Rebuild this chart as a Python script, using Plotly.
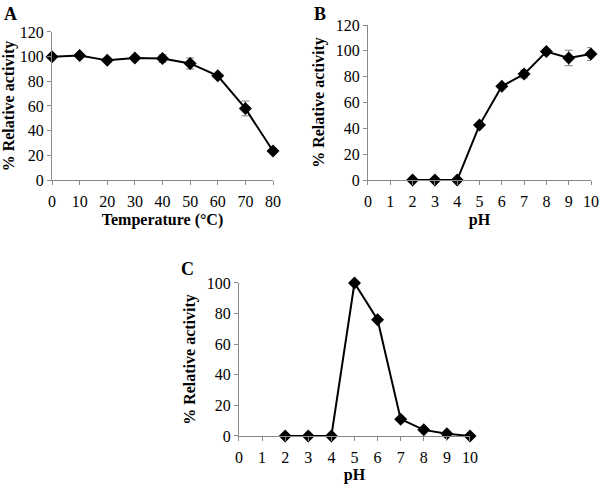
import plotly.graph_objects as go

# Panel A: temperature
temp_x = [0, 10, 20, 30, 40, 50, 60, 70, 80]
temp_y = [100, 101, 97, 99, 98.5, 94.5, 84.5, 58, 23.5]
temp_err = [1, 1, 1.5, 1, 3, 4.5, 1, 6, 1]

# Panel B: pH activity
phB_x = [2, 3, 4, 5, 6, 7, 8, 9, 10]
phB_y = [0, 0, 0, 42.5, 72.5, 82, 99.5, 94.5, 97.5]
phB_err = [0.5, 0.5, 0.5, 1, 1.5, 3, 1, 6, 5]

# Panel C: pH stability
phC_x = [2, 3, 4, 5, 6, 7, 8, 9, 10]
phC_y = [0, 0, 0, 100, 76, 11, 4, 1.5, 0]

FONT = "Liberation Serif"
AX = "#8a8a8a"

fig = go.Figure()

def add(x, y, err, xa, ya):
    kw = dict(x=x, y=y, mode="lines+markers", xaxis=xa, yaxis=ya,
              line=dict(color="black", width=2),
              marker=dict(symbol="diamond", size=10, color="black"),
              cliponaxis=False, showlegend=False)
    if err is not None:
        kw["error_y"] = dict(type="data", array=err, color="#808080", thickness=1, width=4)
    fig.add_trace(go.Scatter(**kw))

add(temp_x, temp_y, temp_err, "x", "y")
add(phB_x, phB_y, phB_err, "x2", "y2")
add(phC_x, phC_y, None, "x3", "y3")

def xaxis(dom, rng, dtick, title, anchor):
    return dict(domain=dom, range=rng, dtick=dtick, tick0=0, anchor=anchor, automargin=False,
                showline=True, linecolor=AX, linewidth=1, showgrid=False, zeroline=False,
                ticks="outside", ticklen=4, tickcolor=AX, ticklabelstandoff=3,
                tickfont=dict(family=FONT, size=16, color="black"),
                title=dict(text="<b>%s</b>" % title, font=dict(family=FONT, size=16, color="black"), standoff=4))

def yaxis(dom, rng, dtick, anchor, standoff):
    return dict(domain=dom, range=rng, dtick=dtick, tick0=0, anchor=anchor, automargin=False,
                showline=True, linecolor=AX, linewidth=1, showgrid=False, zeroline=False,
                ticks="outside", ticklen=4, tickcolor=AX,
                tickfont=dict(family=FONT, size=16, color="black"),
                title=dict(text="<b>% Relative activity</b>", font=dict(family=FONT, size=16, color="black"), standoff=standoff))

fig.update_layout(
    width=600, height=484,
    margin=dict(l=0, r=0, t=0, b=0, autoexpand=False),
    paper_bgcolor="white", plot_bgcolor="white",
    xaxis=xaxis([0.0867, 0.455], [0, 80], 10, "Temperature (°C)", "y"),
    yaxis=yaxis([0.6281, 0.9339], [0, 120], 20, "x", 7),
    xaxis2=xaxis([0.6133, 0.985], [0, 10], 1, "pH", "y2"),
    yaxis2=yaxis([0.6281, 0.9483], [0, 120], 20, "x2", 7),
    xaxis3=xaxis([0.3983, 0.7833], [0, 10], 1, "pH", "y3"),
    yaxis3=yaxis([0.0992, 0.4153], [0, 100], 20, "x3", 7),
    annotations=[
        dict(text="<b>A</b>", x=2 / 600, y=1 - 2 / 484, xref="paper", yref="paper",
             xanchor="left", yanchor="top", showarrow=False, font=dict(family=FONT, size=18, color="black")),
        dict(text="<b>B</b>", x=312 / 600, y=1 - 2 / 484, xref="paper", yref="paper",
             xanchor="left", yanchor="top", showarrow=False, font=dict(family=FONT, size=18, color="black")),
        dict(text="<b>C</b>", x=179 / 600, y=1 - 257 / 484, xref="paper", yref="paper",
             xanchor="left", yanchor="top", showarrow=False, font=dict(family=FONT, size=18, color="black")),
    ],
)

fig.write_html("out.html", config={"displayModeBar": False},
               post_script="document.body.style.margin='0';document.body.style.padding='0';")
